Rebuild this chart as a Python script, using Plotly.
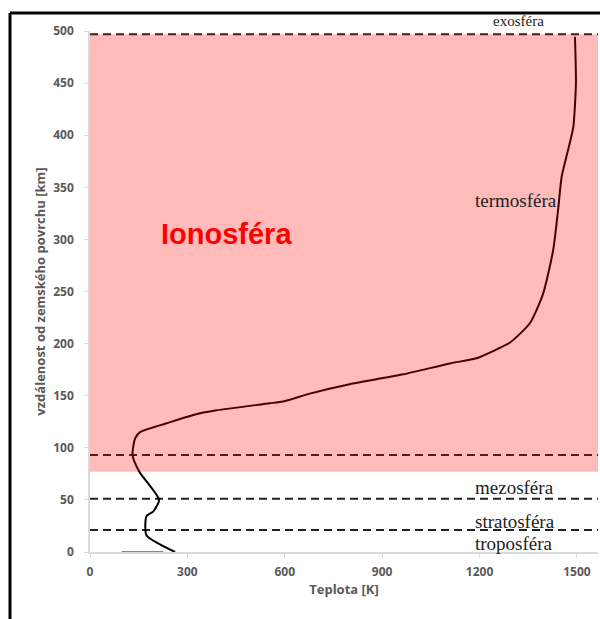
import plotly.graph_objects as go

# Temperature profile (K) vs altitude (km)
temp_K = [262, 174, 174, 195, 213, 152, 131, 139, 154, 236, 318, 390, 554, 595, 677, 800, 965, 1109, 1191, 1253, 1294, 1355, 1396, 1427, 1443, 1453, 1473, 1489, 1497, 1494]
alt_km = [0, 16, 34.5, 39, 50, 77, 93, 109, 115, 123.5, 131.5, 136, 142.7, 144.5, 152, 161, 170.5, 181, 186, 194.5, 201, 219.5, 248, 290, 331, 360, 386, 408, 450, 494.5]

# layer boundaries (km)
boundaries = [21, 51, 93, 497]
ionosphere_bottom = 77
ionosphere_top = 497

layer_names = ["troposféra", "stratosféra", "mezosféra", "termosféra"]
layer_label_alt = [8, 29, 62, 337]
layer_label_T = [1180, 1180, 1180, 1180]

blue_T = [98, 225]
blue_h = [0, 0]

x_ticks = [0, 300, 600, 900, 1200, 1500]
y_ticks = [0, 50, 100, 150, 200, 250, 300, 350, 400, 450, 500]

x_max = 1565

fig = go.Figure()

fig.add_trace(go.Scatter(x=blue_T, y=blue_h, mode="lines",
                         line=dict(color="#5b8be0", width=2), hoverinfo="skip",
                         showlegend=False))
fig.add_trace(go.Scatter(x=temp_K, y=alt_km, mode="lines",
                         line=dict(color="black", width=2, shape="spline", smoothing=0.6),
                         showlegend=False))

shapes = []
for b in boundaries:
    shapes.append(dict(type="line", xref="x", yref="y", x0=0, x1=x_max, y0=b, y1=b,
                       line=dict(color="#222222", width=2, dash="8px,5px"), layer="below"))
shapes.append(dict(type="rect", xref="x", yref="y", x0=0, x1=x_max,
                   y0=ionosphere_bottom, y1=ionosphere_top,
                   fillcolor="rgba(255,0,0,0.27)", line=dict(width=0), layer="above"))
# outer frame (left and top)
shapes.append(dict(type="line", xref="paper", yref="paper",
                   x0=-80/508, x1=-80/508, y0=-67/521, y1=(552-13)/521,
                   line=dict(color="black", width=3)))
shapes.append(dict(type="line", xref="paper", yref="paper",
                   x0=-80/508, x1=510/508, y0=(552-13)/521, y1=(552-13)/521,
                   line=dict(color="black", width=3)))

annotations = []
for name, h, t in zip(layer_names, layer_label_alt, layer_label_T):
    annotations.append(dict(x=t, y=h, xref="x", yref="y", text=name, showarrow=False,
                            xanchor="left", yanchor="middle",
                            font=dict(family="Liberation Serif", size=19, color="#222222")))
annotations.append(dict(x=1235, y=1, xref="x", yref="paper", text="exosféra", showarrow=False,
                        xanchor="left", yanchor="bottom", yshift=0,
                        font=dict(family="Liberation Serif", size=15, color="#222222")))
annotations.append(dict(x=420, y=305, xref="x", yref="y", text="<b>Ionosféra</b>",
                        showarrow=False, xanchor="center", yanchor="middle",
                        font=dict(family="Liberation Sans", size=29, color="#ff0000")))

fig.update_layout(
    width=600, height=619,
    margin=dict(l=90, r=2, t=31, b=67),
    paper_bgcolor="white", plot_bgcolor="white",
    shapes=shapes, annotations=annotations,
    xaxis=dict(range=[0, x_max], tickvals=x_ticks, showgrid=False, zeroline=False,
               automargin=False,
               showline=True, linecolor="#d9d9d9", linewidth=1.5,
               ticks="outside", ticklen=4, tickcolor="#d9d9d9", ticklabelstandoff=4,
               tickfont=dict(family="Open Sans", size=12, color="#595959", weight="bold"),
               title=dict(text="Teplota [K]", standoff=6,
                          font=dict(family="Open Sans", size=13, color="#595959", weight="bold"))),
    yaxis=dict(range=[0, 500], tickvals=y_ticks, showgrid=False, zeroline=False,
               automargin=False,
               showline=True, linecolor="#d9d9d9", linewidth=1.5,
               ticks="outside", ticklen=4, tickcolor="#d9d9d9", ticklabelstandoff=8,
               tickfont=dict(family="Open Sans", size=12, color="#595959", weight="bold"),
               title=dict(text="vzdálenost od zemského povrchu [km]", standoff=5,
                          font=dict(family="Open Sans", size=13, color="#595959", weight="bold"))),
)

fig.write_html("out.html", config={"displayModeBar": False},
               post_script="document.body.style.margin='0';document.body.style.overflow='hidden';")
